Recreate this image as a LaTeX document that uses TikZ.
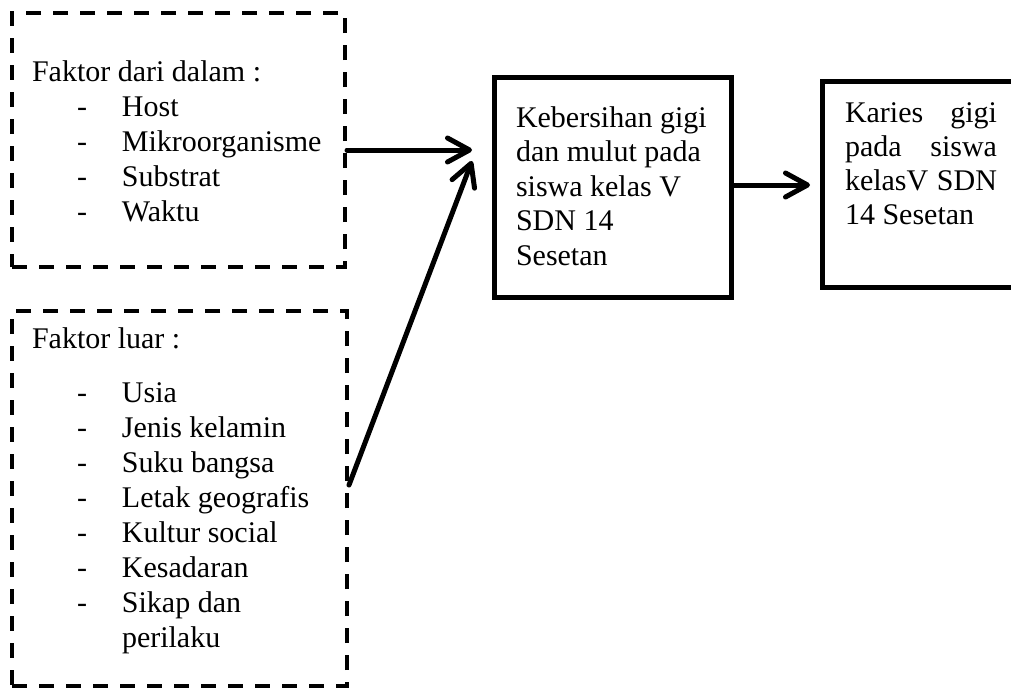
\documentclass[tikz,border=0pt]{standalone}
\usepackage{fontspec}
\setmainfont{Liberation Serif}
\usetikzlibrary{arrows.meta}
\begin{document}
\begin{tikzpicture}[x=1pt,y=-1pt,
  dbox/.style={draw, line width=4pt, dash pattern=on 15pt off 12pt, rectangle, inner sep=0pt},
  sbox/.style={draw, line width=5pt, rectangle, inner sep=0pt},
  txt/.style={anchor=base west, inner sep=0pt, outer sep=0pt},
  arr/.style={line width=5pt, line cap=round, -{Straight Barb[length=22pt,width=24pt,line cap=round,line join=round]}}]
\useasboundingbox (0,0) rectangle (1011,689);
\clip (0,0) rectangle (1011,689);
% boxes
\node[dbox, minimum width=333pt, minimum height=254pt] (f1) at (178.5,140) {};
\node[dbox, minimum width=335pt, minimum height=375pt] (f2) at (179.5,498.5) {};
\node[sbox, minimum width=237pt, minimum height=220pt] (k) at (612.5,187) {};
\node[sbox, minimum width=228pt, minimum height=206pt] (r) at (936,184) {};
% texts
\node[txt] (f1t) at (32,81) {\parbox[t]{310pt}{\fontsize{30}{35}\selectfont
Faktor dari dalam :\\
\hspace*{45pt}\makebox[45pt][l]{-}Host\\
\hspace*{45pt}\makebox[45pt][l]{-}Mikroorganisme\\
\hspace*{45pt}\makebox[45pt][l]{-}Substrat\\
\hspace*{45pt}\makebox[45pt][l]{-}Waktu}};
\node[txt] (f2t) at (32,348) {\parbox[t]{310pt}{\fontsize{30}{35}\selectfont
Faktor luar :\\[19pt]
\hspace*{45pt}\makebox[45pt][l]{-}Usia\\
\hspace*{45pt}\makebox[45pt][l]{-}Jenis kelamin\\
\hspace*{45pt}\makebox[45pt][l]{-}Suku bangsa\\
\hspace*{45pt}\makebox[45pt][l]{-}Letak geografis\\
\hspace*{45pt}\makebox[45pt][l]{-}Kultur social\\
\hspace*{45pt}\makebox[45pt][l]{-}Kesadaran\\
\hspace*{45pt}\makebox[45pt][l]{-}Sikap dan\\
\hspace*{90pt}perilaku}};
\node[txt] (kt) at (516,127) {\parbox[t]{210pt}{\fontsize{30}{34.5}\selectfont
Kebersihan gigi\\
dan mulut pada\\
siswa kelas V\\
SDN 14\\
Sesetan}};
\node[txt] (rt) at (845,122) {\parbox[t]{160pt}{\fontsize{30}{34}\selectfont
\makebox[152pt][s]{Karies gigi}\\
\makebox[152pt][s]{pada siswa}\\
\makebox[152pt][s]{kelasV SDN}\\
14 Sesetan}};
% arrow ends
\coordinate (e1) at (472,150);
\coordinate (e2) at (472,161);
\coordinate (e3) at (810,185);
% connectors
\draw[arr] (f1.east |- 0,150) -- (e1);
\draw[arr] (f2.east |- 0,485) -- (e2);
\draw[arr] (k.east |- 0,185) -- (e3);
\end{tikzpicture}
\end{document}
